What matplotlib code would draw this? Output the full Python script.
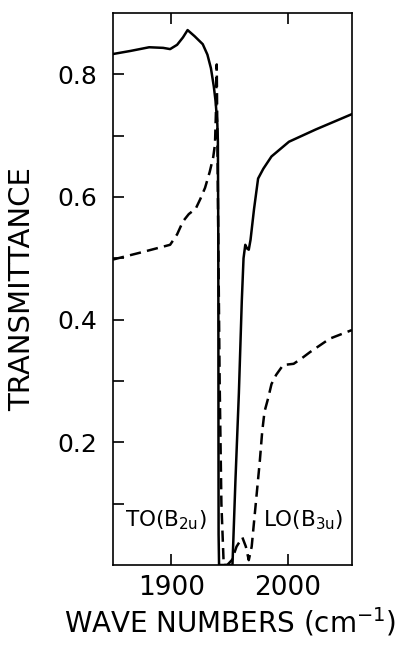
import numpy as np
import matplotlib
matplotlib.use("Agg")
import matplotlib.pyplot as plt

# solid curve
solid_x = [1850, 1865, 1881, 1893, 1899, 1905, 1910, 1914, 1920, 1927, 1931,
           1934, 1936.5, 1938, 1939.5, 1940, 1940.3, 1940.4, 1940.5, 1940.6,
           1941, 1949, 1952.5, 1955, 1958, 1960.5, 1962, 1963.5, 1965, 1966.5,
           1968, 1971, 1974.5, 1979, 1986, 2001, 2024, 2055]
solid_y = [0.833, 0.838, 0.844, 0.843, 0.841, 0.848, 0.860, 0.872, 0.862,
           0.849, 0.832, 0.81, 0.78, 0.756, 0.72, 0.69, 0.55, 0.43, 0.2, 0.05,
           0.0, 0.0, 0.0, 0.135, 0.28, 0.43, 0.50, 0.522, 0.516, 0.514, 0.53,
           0.58, 0.63, 0.646, 0.666, 0.69, 0.71, 0.735]

# dashed curve
dash_x = [1850, 1875, 1899, 1905, 1910, 1915, 1921, 1925, 1929, 1933, 1936,
          1937.5, 1938.5, 1939, 1940, 1941.5, 1943, 1945, 1948, 1952, 1956,
          1961, 1964, 1966.5, 1969, 1973.5, 1976, 1978, 1980, 1983, 1986,
          1990, 1996, 2005, 2012, 2019, 2036, 2055]
dash_y = [0.498, 0.51, 0.522, 0.539, 0.56, 0.572, 0.581, 0.597, 0.615, 0.641,
          0.665, 0.686, 0.75, 0.816, 0.6, 0.3, 0.1, 0.0, 0.0, 0.008, 0.03,
          0.045, 0.03, 0.008, 0.03, 0.12, 0.17, 0.217, 0.25, 0.271, 0.295,
          0.31, 0.326, 0.328, 0.337, 0.347, 0.369, 0.383]

yticks = [0.1, 0.2, 0.3, 0.4, 0.5, 0.6, 0.7, 0.8]
ylabels = ["", "0.2", "", "0.4", "", "0.6", "", "0.8"]
xticks = [1900, 2000]
xlabels = ["1900", "2000"]

plt.rcParams['font.family'] = ['DejaVu Sans']
plt.rcParams['mathtext.default'] = 'regular'

fig = plt.figure(figsize=(4.14, 6.45), dpi=100)
ax = fig.add_axes([0.273, 0.124, 0.577, 0.856])

ax.plot(solid_x, solid_y, color='black', lw=1.8)
ax.plot(dash_x, dash_y, color='black', lw=1.8, dashes=(4.5, 2.5))

ax.set_xlim(1850, 2055)
ax.set_ylim(0, 0.9)

ax.set_yticks(yticks)
ax.set_yticklabels(ylabels)
ax.set_xticks(xticks)
ax.set_xticklabels(xlabels)
ax.tick_params(axis='y', direction='in', length=8, width=1.2, labelsize=18, pad=11)
ax.tick_params(axis='x', direction='in', length=8, width=1.2, labelsize=19, pad=7,
               top=True)
for s in ax.spines.values():
    s.set_linewidth(1.2)

ax.set_ylabel('TRANSMITTANCE', fontsize=21, va='center')
ax.yaxis.set_label_coords(-0.38, 0.5)
ax.set_xlabel('WAVE NUMBERS (cm$^{-1}$)', fontsize=20, va='center')
ax.xaxis.set_label_coords(0.49, -0.103)

ax.text(1860, 0.073, 'TO(B$_{2u}$)', fontsize=15.5, va='center')
ax.text(1979, 0.073, 'LO(B$_{3u}$)', fontsize=15.5, va='center')

fig.savefig('out.png', dpi=100)
